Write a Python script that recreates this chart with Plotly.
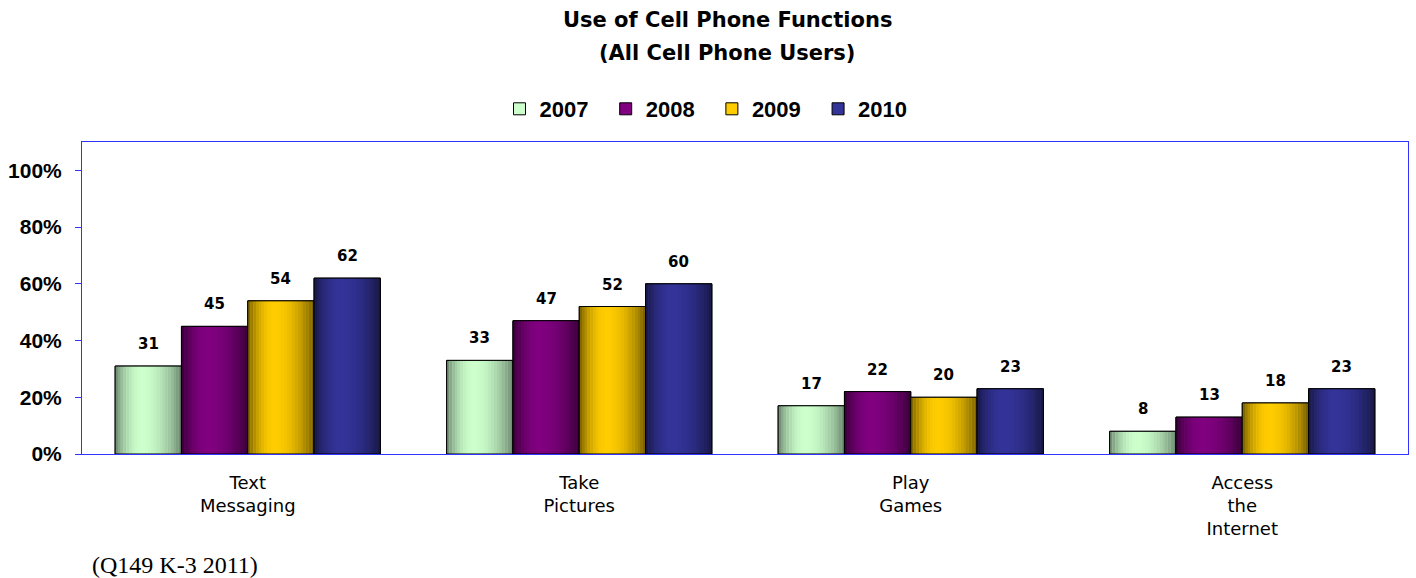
import math
import plotly.graph_objects as go

categories = ["Text<br>Messaging", "Take<br>Pictures", "Play<br>Games", "Access<br>the<br>Internet"]
years = ["2007", "2008", "2009", "2010"]
v2007 = [31, 33, 17, 8]
v2008 = [45, 47, 22, 13]
v2009 = [54, 52, 20, 18]
v2010 = [62, 60, 23, 23]
series_values = [v2007, v2008, v2009, v2010]
tick_vals = [0, 20, 40, 60, 80, 100]
tick_text = ["0%", "20%", "40%", "60%", "80%", "100%"]

center_colors = ["#CCFFCC", "#800080", "#FFCC00", "#333399"]
edge_colors = ["#66806A", "#330033", "#6E5800", "#16163F"]

W, H = 1416, 578
ML, MR, MT, MB = 82, 8, 142, 124
PW, PH = W - ML - MR, H - MT - MB

def px_x(px):
    return (px - ML) / PW

def px_y(py):
    return (H - MB - py) / PH

def hex2rgb(h):
    h = h.lstrip("#")
    return [int(h[i:i + 2], 16) for i in (0, 2, 4)]

def mix(c1, c2, s):
    a, b = hex2rgb(c1), hex2rgb(c2)
    return "rgb(%d,%d,%d)" % tuple(round(a[k] + (b[k] - a[k]) * s) for k in range(3))

x = list(range(len(categories)))
n = len(years)
group_w = 0.8
w = group_w / n
K = 24

fig = go.Figure()
annotations = []
for j, (yr, vals) in enumerate(zip(years, series_values)):
    base_off = -group_w / 2 + j * w
    fig.add_trace(go.Bar(
        x=x, y=vals, name="<b>" + yr + "</b>\u00a0\u00a0", width=w, offset=base_off,
        marker=dict(color=center_colors[j], line=dict(color="#000000", width=1)),
        showlegend=True, hoverinfo="skip",
    ))
    for k in range(K):
        t = (k + 0.5) / K
        if t < 0.4:
            u = t / 0.8
        else:
            u = 0.5 + (t - 0.4) / 1.2
        s = math.sin(math.pi * u) ** 0.8
        fig.add_trace(go.Bar(
            x=x, y=vals, width=w / K * 1.06, offset=base_off + k * w / K,
            marker=dict(color=mix(edge_colors[j], center_colors[j], s), line=dict(width=0)),
            showlegend=False, hoverinfo="skip",
        ))
    fig.add_trace(go.Bar(
        x=x, y=vals, width=w, offset=base_off,
        marker=dict(color="rgba(0,0,0,0)", line=dict(color="#000000", width=1)),
        showlegend=False, hovertemplate=yr + ": %{y}<extra></extra>",
    ))
    for xi, v in zip(x, vals):
        annotations.append(dict(
            x=xi + base_off + w / 2, y=v, xref="x", yref="y",
            text="<b>" + str(v) + "</b>", showarrow=False, yshift=22,
            font=dict(family="DejaVu Sans", size=15, color="#000000"),
        ))

annotations.append(dict(
    x=px_x(727), y=px_y(20), xref="paper", yref="paper", xanchor="center", yanchor="middle",
    text="<b>Use of Cell Phone Functions</b>", showarrow=False,
    font=dict(family="DejaVu Sans", size=21, color="#000000"),
))
annotations.append(dict(
    x=px_x(727), y=px_y(53), xref="paper", yref="paper", xanchor="center", yanchor="middle",
    text="<b>(All Cell Phone Users)</b>", showarrow=False,
    font=dict(family="DejaVu Sans", size=21, color="#000000"),
))
annotations.append(dict(
    x=px_x(90), y=px_y(565), xref="paper", yref="paper", xanchor="left", yanchor="middle",
    text="(Q149 K-3 2011)", showarrow=False,
    font=dict(family="Liberation Serif", size=24, color="#000000"),
))

fig.update_layout(
    width=W, height=H,
    barmode="overlay",
    paper_bgcolor="#FFFFFF", plot_bgcolor="#FFFFFF",
    margin=dict(l=ML, r=MR, t=MT, b=MB, autoexpand=False),
    annotations=annotations,
    legend=dict(
        orientation="h", x=px_x(712), xanchor="center", y=px_y(109), yanchor="middle",
        font=dict(family="Liberation Sans", size=22, color="#000000"),
        itemwidth=30, traceorder="normal",
    ),
    xaxis=dict(
        tickmode="array", tickvals=x, ticktext=categories, range=[-0.5, 3.5],
        showline=True, linecolor="#3333FF", linewidth=1, mirror=True,
        ticks="", showgrid=False, zeroline=False, automargin=False,
        ticklabelstandoff=12,
        tickfont=dict(family="DejaVu Sans", size=18, color="#000000"),
    ),
    yaxis=dict(
        tickmode="array", tickvals=tick_vals, ticktext=["<b>" + t + "</b>" for t in tick_text],
        range=[0, 110], showline=True, linecolor="#3333FF", linewidth=1, mirror=True,
        ticks="outside", tickcolor="#3333FF", ticklen=6, showgrid=False, zeroline=False,
        automargin=False, ticklabelstandoff=9,
        tickfont=dict(family="Liberation Sans", size=21, color="#000000"),
    ),
    font=dict(family="DejaVu Sans"),
)

fig.write_html("out.html", post_script="document.body.style.margin='0';",
               config={"displayModeBar": False})
